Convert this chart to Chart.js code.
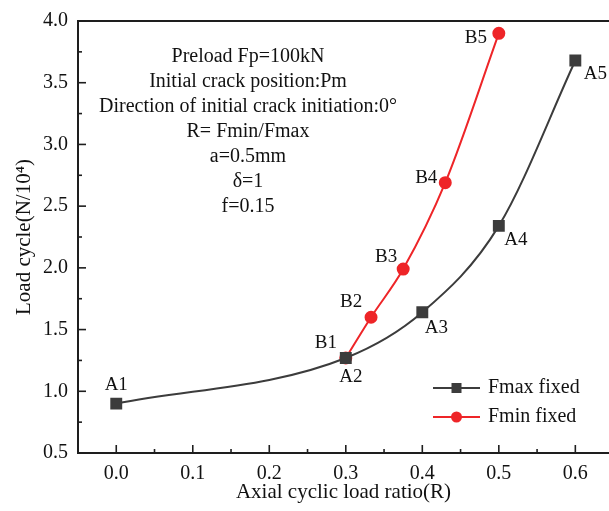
<!DOCTYPE html>
<html>
<head>
<meta charset="utf-8">
<script src="https://cdn.jsdelivr.net/npm/chart.js@4"></script>
<style>
html, body { margin: 0; padding: 0; background: #fff; overflow: hidden; }
</style>
</head>
<body>
<canvas id="myChart" width="609" height="511"></canvas>
<script>
// Fmax fixed
const ratioA = [0, 0.3, 0.4, 0.5, 0.6]
const cycleA = [0.90, 1.27, 1.64, 2.34, 3.68]
const namesA = ['A1', 'A2', 'A3', 'A4', 'A5']
// Fmin fixed
const ratioB = [0.3, 0.333, 0.375, 0.43, 0.5]
const cycleB = [1.27, 1.60, 1.99, 2.69, 3.90]
const namesB = ['B1', 'B2', 'B3', 'B4', 'B5']

const seriesNames = ['Fmax fixed', 'Fmin fixed']
const xTitle = 'Axial cyclic load ratio(R)'
const yTitle = 'Load cycle(N/10\u2074)'
const noteLines = [
    'Preload Fp=100kN',
    'Initial crack position:Pm',
    'Direction of initial crack initiation:0\u00b0',
    'R= Fmin/Fmax',
    'a=0.5mm',
    '\u03b4=1',
    'f=0.15'
]

const serif = '"Liberation Serif", "Times New Roman", serif'
const grey = '#3c3c3c'
const red = '#ee2528'

// where each point label sits, relative to its point (px)
const labelShift = {
    A1: [0, -19], A2: [5, 19], A3: [14, 16], A4: [17, 14], A5: [20, 14],
    B1: [-20, -15], B2: [-20, -15], B3: [-17, -12], B4: [-19, -5], B5: [-23, 5]
}

function seg(ctx, x1, y1, x2, y2) {
    ctx.beginPath()
    ctx.moveTo(x1, y1)
    ctx.lineTo(x2, y2)
    ctx.stroke()
}

const decor = {
    id: 'decor',
    afterDraw(chart) {
        const ctx = chart.ctx
        const a = chart.chartArea
        const x = chart.scales.x
        const y = chart.scales.y
        ctx.save()

        // top frame line
        ctx.strokeStyle = '#1e1e1e'
        ctx.lineWidth = 2
        seg(ctx, a.left - 1, a.top, a.right, a.top)

        // inward ticks, major and minor
        ctx.lineWidth = 1.6
        x.ticks.forEach(t => {
            const p = x.getPixelForValue(t.value)
            seg(ctx, p, a.bottom, p, a.bottom - 8)
            const m = x.getPixelForValue(t.value + 0.05)
            if (m < a.right) seg(ctx, m, a.bottom, m, a.bottom - 4)
        })
        y.ticks.forEach(t => {
            const p = y.getPixelForValue(t.value)
            seg(ctx, a.left, p, a.left + 8, p)
            const m = y.getPixelForValue(t.value + 0.25)
            if (m > a.top) seg(ctx, a.left, m, a.left + 4, m)
        })

        // point labels
        ctx.fillStyle = '#111'
        ctx.font = '19px ' + serif
        ctx.textAlign = 'center'
        ctx.textBaseline = 'middle'
        const allNames = [namesA, namesB]
        chart.data.datasets.forEach((ds, i) => {
            chart.getDatasetMeta(i).data.forEach((pt, j) => {
                const n = allNames[i][j]
                const s = labelShift[n]
                ctx.fillText(n, pt.x + s[0], pt.y + s[1])
            })
        })

        // note text
        ctx.font = '20px ' + serif
        noteLines.forEach((line, i) => {
            ctx.fillText(line, a.left + 170, a.top + 36 + i * 25)
        })

        // legend
        ctx.textAlign = 'left'
        chart.data.datasets.forEach((ds, i) => {
            const ly = a.bottom - 65 + i * 29
            const lx = a.left + 355
            ctx.strokeStyle = ds.borderColor
            ctx.lineWidth = 2
            seg(ctx, lx, ly, lx + 47, ly)
            ctx.fillStyle = ds.backgroundColor
            if (ds.pointStyle === 'rect') {
                ctx.fillRect(lx + 18.5, ly - 5, 10, 10)
            } else {
                ctx.beginPath()
                ctx.arc(lx + 23.5, ly, 5.5, 0, Math.PI * 2)
                ctx.fill()
            }
            ctx.fillStyle = '#111'
            ctx.fillText(ds.label, lx + 55, ly)
        })
        ctx.restore()
    }
}

const data = {
    datasets: [{
        label: seriesNames[0],
        data: ratioA.map((r, i) => ({ x: r, y: cycleA[i] })),
        borderColor: grey,
        backgroundColor: grey,
        borderWidth: 2,
        pointStyle: 'rect',
        pointRadius: 7,
        pointHoverRadius: 7,
        cubicInterpolationMode: 'monotone'
    }, {
        label: seriesNames[1],
        data: ratioB.map((r, i) => ({ x: r, y: cycleB[i] })),
        borderColor: red,
        backgroundColor: red,
        borderWidth: 2,
        pointStyle: 'circle',
        pointRadius: 5.5,
        pointHoverRadius: 5.5,
        cubicInterpolationMode: 'monotone'
    }]
}

const config = {
    type: 'line',
    data: data,
    options: {
        responsive: false,
        animation: false,
        devicePixelRatio: 1,
        layout: { autoPadding: false, padding: { top: 21, left: 0, right: 0, bottom: 0 } },
        plugins: {
            legend: { display: false },
            tooltip: { enabled: false }
        },
        scales: {
            x: {
                type: 'linear',
                min: -0.05,
                max: 0.644,
                grid: { display: false, drawTicks: false },
                border: { display: true, color: '#1e1e1e', width: 2 },
                ticks: {
                    stepSize: 0.1,
                    includeBounds: false,
                    padding: 9,
                    color: '#111',
                    font: { family: serif, size: 20 },
                    callback: v => v.toFixed(1)
                },
                title: {
                    display: true,
                    text: xTitle,
                    color: '#111',
                    font: { family: serif, size: 21 },
                    padding: { top: 0, bottom: 6 }
                },
                afterFit: s => {
                    s.height = 58
                    s.paddingLeft = 0
                    s.paddingRight = 0
                }
            },
            y: {
                type: 'linear',
                min: 0.5,
                max: 4.0,
                grid: { display: false, drawTicks: false },
                border: { display: true, color: '#1e1e1e', width: 2 },
                ticks: {
                    stepSize: 0.5,
                    padding: 10,
                    color: '#111',
                    font: { family: serif, size: 20 },
                    callback: v => v.toFixed(1)
                },
                title: {
                    display: true,
                    text: yTitle,
                    color: '#111',
                    font: { family: serif, size: 21 },
                    padding: { top: 12, bottom: 0 }
                },
                afterFit: s => {
                    s.width = 78
                    s.paddingTop = 0
                    s.paddingBottom = 0
                }
            }
        }
    },
    plugins: [decor]
}

const myChart = new Chart(document.getElementById('myChart'), config)
</script>
</body>
</html>
